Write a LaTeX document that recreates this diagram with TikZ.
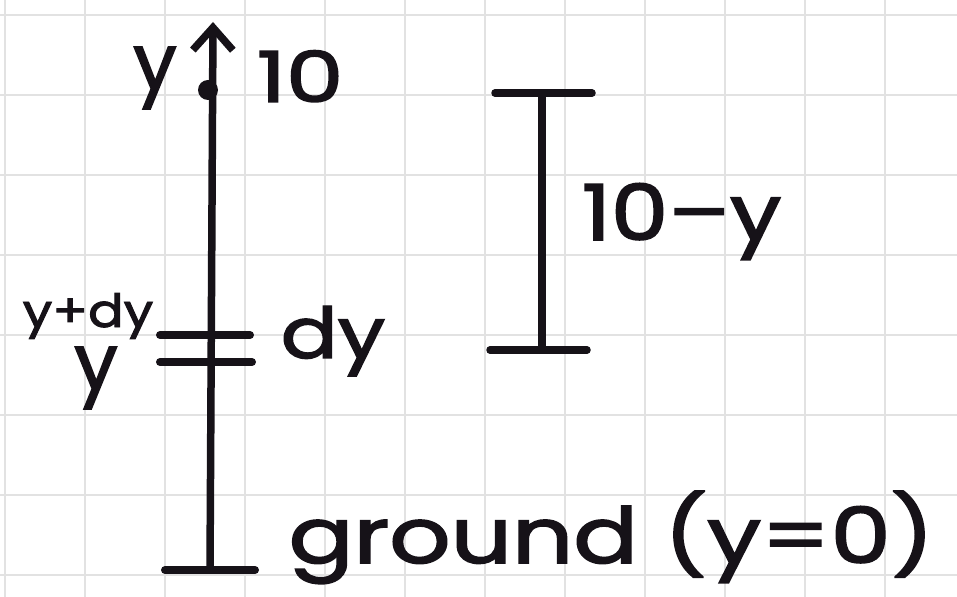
\documentclass[tikz,border=0pt]{standalone}
\usepackage{fontspec}
\setmainfont{Poppins}
\newfontfamily\handfont{Poppins}[FakeBold=2]
\usepackage{graphicx}
\usepackage{tikz}
\usetikzlibrary{arrows.meta,positioning}
\definecolor{ink}{RGB}{22,18,24}
\definecolor{paper}{RGB}{226,226,226}
\newcommand{\handtext}[2]{\scalebox{#1}[1]{#2}}

\begin{document}
\begin{tikzpicture}[x=0.02cm, y=-0.02cm, line width=0.15cm, line cap=round, ink,
  lbl/.style={font=\handfont\fontsize{40}{40}\selectfont, text=ink, inner sep=0pt},
  biglbl/.style={font=\handfont\fontsize{44}{44}\selectfont, text=ink, inner sep=0pt},
  smalllbl/.style={font=\handfont\fontsize{26}{26}\selectfont, text=ink, inner sep=0pt},
  tick/.style={line width=0.16cm}]
  \useasboundingbox (0,0) rectangle (957,597);
  % paper grid
  \fill[white] (0,0) rectangle (957,597);
  \foreach \gx in {5,85,...,885} {
    \draw[paper, line width=0.045cm] (\gx,0) -- (\gx,597);
  }
  \foreach \gy in {15,95,...,575} {
    \draw[paper, line width=0.045cm] (0,\gy) -- (957,\gy);
  }
  % height axis
  \coordinate (base) at (210,570);
  \coordinate (tip) at (213,22);
  \draw[-{Straight Barb[length=0.45cm,width=0.8cm]}] (base) -- (tip);
  \node[circle, fill=ink, inner sep=0pt, minimum size=0.4cm] (top) at (208,90) {};
  \node[biglbl] (ytop) at (155,78) {y};
  \node[lbl, anchor=base west] (ten) at (253,102) {\handtext{1.3}{10}};
  % thin slice
  \coordinate (sl1) at (160,335); \coordinate (sr1) at (250,335);
  \coordinate (sl2) at (160,362); \coordinate (sr2) at (252,362);
  \draw[tick] (sl1) -- (sr1);
  \draw[tick] (sl2) -- (sr2);
  \node[smalllbl] (ydy) at (88,316) {\handtext{1.15}{y+dy}};
  \node[biglbl] (ylow) at (96,378) {y};
  \node[lbl, anchor=base west] (dy) at (277,358) {\handtext{1.2}{dy}};
  % ground
  \coordinate (gl) at (165,570); \coordinate (gr) at (255,570);
  \draw[tick] (gl) -- (gr);
  \node[biglbl, anchor=base west] (ground)
    at (285,563) {\handtext{1.24}{ground (y=0)}};
  % remaining height
  \coordinate (bt) at (542,93); \coordinate (bb) at (542,350);
  \coordinate (btl) at (495,93); \coordinate (btr) at (592,93);
  \coordinate (bbl) at (490,350); \coordinate (bbr) at (587,350);
  \draw (btl) -- (btr);
  \draw (bt) -- (bb);
  \draw (bbl) -- (bbr);
  \node[biglbl, anchor=base west] (rest) at (578,240) {\handtext{1.18}{10–y}};
\end{tikzpicture}
\end{document}
